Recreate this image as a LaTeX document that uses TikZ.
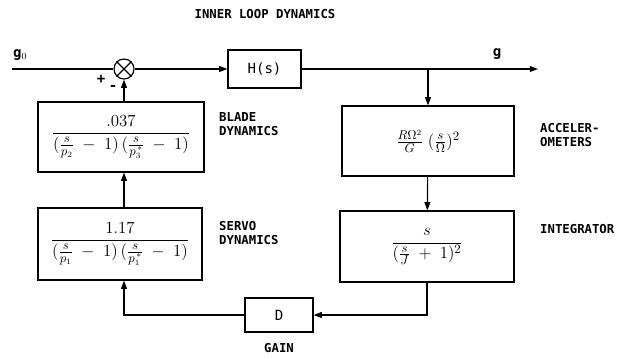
\documentclass[tikz,border=0pt]{standalone}
\usepackage{amsmath}
\usepackage{fontspec}
\setmainfont{DejaVu Sans Mono}
\usepackage{tikz}
\usetikzlibrary{arrows.meta,positioning}
\tikzset{
  blockbox/.style={
    draw,
    line width=1pt,
    align=center,
    inner sep=0pt
  },
  sumjoint/.style={
    draw,
    circle,
    line width=1pt,
    minimum size=0.6cm,
    inner sep=0pt
  },
  sidelabel/.style={
    align=left,
    anchor=west,
    font=\fontsize{10.5}{12}\selectfont\bfseries,
    inner sep=0pt
  },
  flow/.style={line width=1pt, -{Triangle[length=7pt,width=5pt]}},
  line/.style={line width=1pt}
}

\begin{document}
\begin{tikzpicture}[x=0.03cm, y=-0.03cm]
  \useasboundingbox (0,0) rectangle (639,358);
  % title
  \node[font=\fontsize{10.5}{12}\selectfont\bfseries] (title) at (265,14) {INNER LOOP DYNAMICS};
  % forward path
  \coordinate (input) at (12,69);
  \node[sumjoint] (sum) at (124,69) {};
  \draw[line] (sum.north east) -- (sum.south west);
  \draw[line] (sum.north west) -- (sum.south east);
  \node[blockbox, minimum width=2.19cm, minimum height=1.14cm,
    font=\fontsize{12}{14}\selectfont] (hs) at (264.5,69) {H(s)};
  \coordinate (branch) at (428,69);
  \coordinate (output) at (538,69);
  \node[font=\fontsize{12}{14}\selectfont\bfseries, anchor=south west, inner sep=0pt] (gzero) at (13,61) {g$_0$};
  \node[font=\fontsize{12}{14}\selectfont\bfseries, anchor=south, inner sep=0pt] (gout) at (497,60) {g};
  \node[font=\fontsize{12}{14}\selectfont\bfseries, inner sep=0pt] (plus) at (101,79) {+};
  \node[font=\fontsize{12}{14}\selectfont\bfseries, inner sep=0pt] (minus) at (113,88) {-};
  % feedback blocks, left column
  \node[blockbox, minimum width=4.98cm, minimum height=2.1cm,
    font=\fontsize{15}{17}\selectfont] (blade) at (121,137)
    {$\displaystyle\frac{.037}{(\tfrac{s}{p_2}\;-\;1)\,(\tfrac{s}{p_3^{\,*}}\;-\;1)}$};
  \node[blockbox, minimum width=4.92cm, minimum height=2.16cm,
    font=\fontsize{15}{17}\selectfont] (servo) at (120,244)
    {$\displaystyle\frac{1.17}{(\tfrac{s}{p_1}\;-\;1)\,(\tfrac{s}{p_1^{\,*}}\;-\;1)}$};
  \node[sidelabel] (bladelbl) at (219,124) {BLADE\\DYNAMICS};
  \node[sidelabel] (servolbl) at (219,233) {SERVO\\DYNAMICS};
  % sensor blocks, right column
  \node[blockbox, minimum width=5.16cm, minimum height=2.1cm,
    font=\fontsize{15}{17}\selectfont] (accel) at (428,141)
    {$\frac{R\Omega^2}{G}\;(\frac{s}{\Omega})^2$};
  \node[blockbox, minimum width=5.22cm, minimum height=2.13cm,
    font=\fontsize{15}{17}\selectfont] (integ) at (427,246.5)
    {$\displaystyle\frac{s}{(\tfrac{s}{J}\;+\;1)^2}$};
  \node[sidelabel] (accellbl) at (540,135) {ACCELER-\\OMETERS};
  \node[sidelabel] (integlbl) at (540,229) {INTEGRATOR};
  % gain
  \node[blockbox, minimum width=2.04cm, minimum height=1.02cm,
    font=\fontsize{12}{14}\selectfont] (gain) at (279,315) {D};
  \node[sidelabel, anchor=center] (gainlbl) at (279,348) {GAIN};
  % connectors
  \draw[line] (input) -- (sum);
  \draw[flow] (sum) -- (hs);
  \draw[flow] (hs) -- (output);
  \draw[flow] (branch) -- (accel);
  \draw[flow] (accel) -- (integ);
  \draw[flow] (integ.south) |- (gain);
  \draw[flow] (gain.west) -| (sum |- servo.south);
  \draw[flow] (sum |- servo.north) -- (sum |- blade.south);
  \draw[flow] (sum |- blade.north) -- (sum.south);
\end{tikzpicture}
\end{document}
